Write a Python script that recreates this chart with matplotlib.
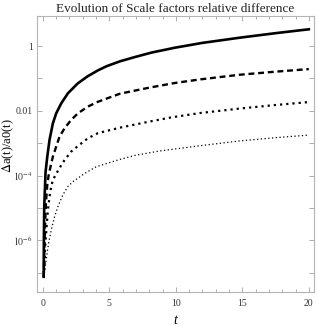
import numpy as np
import matplotlib
matplotlib.use("Agg")
import matplotlib.pyplot as plt

# valeurs (t, log10 de la difference relative)
t_solid = [0.06, 0.075, 0.1, 0.2, 0.33, 0.5, 0.75, 1.0, 1.38, 1.88, 2.63, 3.38, 4.14, 4.8, 5.8,
           6.9, 8.17, 9.92, 12, 14.8, 17.5, 20]
lg_solid = [-7.13, -6.0, -5.0, -3.9, -3.42, -2.9, -2.39, -2.08, -1.77, -1.46, -1.15, -0.93, -0.75,
            -0.62, -0.47, -0.34, -0.2, -0.05, 0.1, 0.26, 0.4, 0.52]

t_dash = [0.06, 0.08, 0.12, 0.17, 0.23, 0.33, 0.43, 0.58, 0.75, 1.0, 1.25, 1.63, 2.13, 2.63, 3.38,
          4.14, 5.8, 8.05, 9.92, 11.8, 14.8, 17.5, 20]
lg_dash = [-7.13, -6.9, -6.1, -5.47, -4.86, -4.29, -4.0, -3.72, -3.42, -3.11, -2.8, -2.54, -2.28,
           -2.08, -1.87, -1.72, -1.47, -1.28, -1.14, -1.03, -0.885, -0.79, -0.71]

t_dot = [0.06, 0.12, 0.17, 0.28, 0.38, 0.5, 0.63, 0.75, 1.0, 1.25, 1.63, 2.13, 2.63, 3.38, 4.14,
         5.8, 8.05, 9.7, 11.8, 14.8, 17.5, 20]
lg_dot = [-7.13, -6.81, -6.19, -5.58, -5.06, -4.65, -4.34, -4.14, -3.95, -3.77, -3.52, -3.26, -3.09,
          -2.85, -2.69, -2.52, -2.33, -2.2, -2.07, -1.93, -1.82, -1.73]

t_fine = [0.06, 0.12, 0.25, 0.43, 0.63, 0.88, 1.13, 1.5, 1.88, 2.26, 3.16, 4.0, 5.8, 6.9, 8.8,
          9.55, 11.8, 14.8, 17.5, 20]
lg_fine = [-7.13, -7.0, -6.6, -6.09, -5.68, -5.27, -4.96, -4.6, -4.34, -4.19, -3.93, -3.73, -3.5,
           -3.38, -3.24, -3.2, -3.08, -2.93, -2.83, -2.75]

ytick_vals = [1e-6, 1e-4, 0.01, 1]
ytick_labels = [r"$10^{-6}$", r"$10^{-4}$", "0.01", "1"]
ytick_minor = [1e-7, 1e-5, 1e-3, 0.1]
xtick_vals = [0, 5, 10, 15, 20]

plt.rcParams['font.family'] = ['Liberation Serif', 'DejaVu Serif']
plt.rcParams['mathtext.fontset'] = 'stix'

fig = plt.figure(figsize=(3.18, 3.27), dpi=100)
ax = fig.add_axes([0.116, 0.107, 0.871, 0.844])

ax.plot(t_solid, 10 ** np.array(lg_solid), color='black', lw=1.9)
ax.plot(t_dash, 10 ** np.array(lg_dash), color='black', lw=1.7, dashes=(2.5, 1.6))
ax.plot(t_dot, 10 ** np.array(lg_dot), color='black', lw=1.6, dashes=(1.0, 1.8))
ax.plot(t_fine, 10 ** np.array(lg_fine), color='black', lw=0.9, dashes=(1.0, 2.0))

ax.set_yscale('log')
ax.set_xlim(-0.45, 20.38)
ax.set_ylim(10 ** -7.6, 10 ** 0.93)

ax.set_yticks(ytick_vals)
ax.set_yticklabels(ytick_labels)
ax.set_yticks(ytick_minor, minor=True)
ax.set_yticklabels([], minor=True)

ax.set_xticks(xtick_vals)
ax.set_xticklabels([str(v) for v in xtick_vals])
ax.set_xticks(np.arange(0, 21, 1), minor=True)

for s in ax.spines.values():
    s.set_color('#b4b4b4')
    s.set_linewidth(0.8)
ax.tick_params(which='both', direction='in', top=True, right=True, color='#a0a0a0',
               labelsize=7, labelcolor='#333333', width=0.6)
ax.tick_params(which='major', length=3.5)
ax.tick_params(which='minor', length=2)
ax.tick_params(axis='y', which='minor', length=3.5)
ax.tick_params(axis='x', pad=5)
ax.tick_params(axis='y', pad=3)

ax.set_title("Evolution of Scale factors relative difference", fontsize=9.5, pad=3, color='#222222')
ax.set_ylabel(r"$\Delta$a(t)/a0(t)", fontsize=9)
ax.yaxis.set_label_coords(-0.074, 0.53)
ax.set_xlabel("t", fontsize=10, style='italic', labelpad=4)

fig.savefig("out.png", dpi=100)
